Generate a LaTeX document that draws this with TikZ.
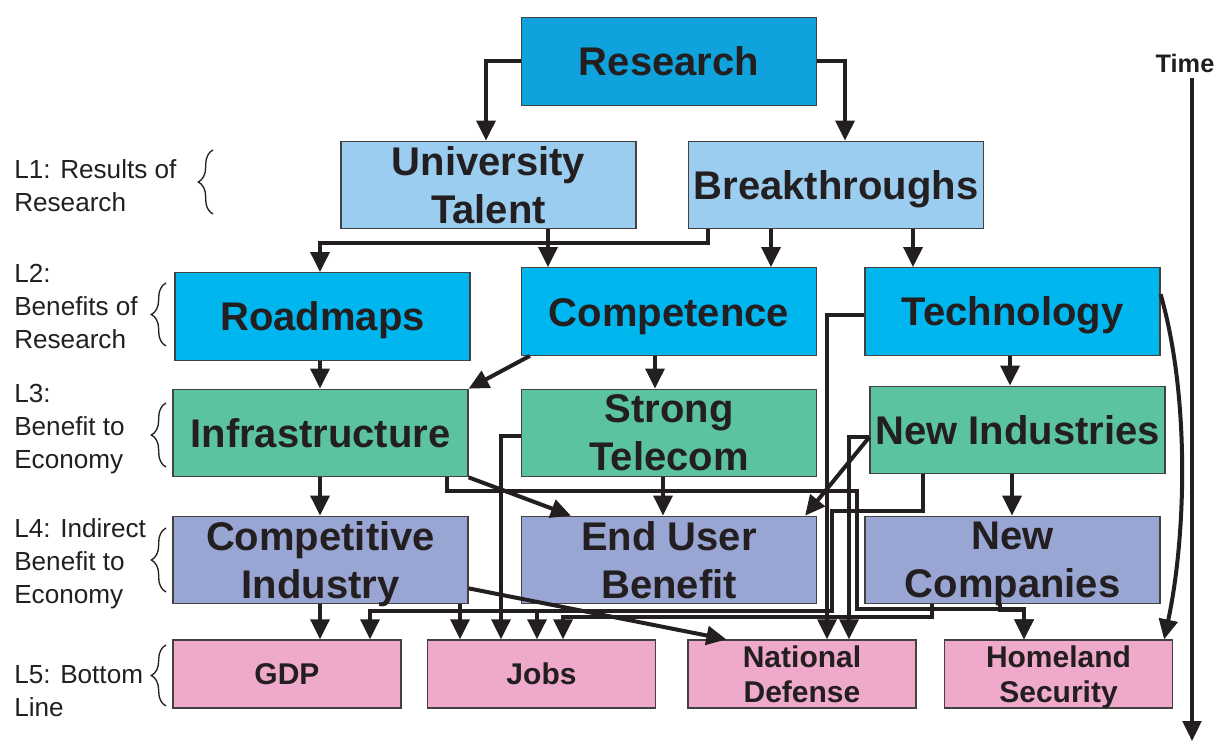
\documentclass[tikz,border=0pt]{standalone}
\usepackage{fontspec}
\setmainfont{Liberation Sans}
\usetikzlibrary{arrows.meta,calc,decorations.pathreplacing}
\definecolor{txt}{HTML}{231F20}
\definecolor{cRes}{HTML}{0FA2DC}
\definecolor{cL1}{HTML}{9ACDEF}
\definecolor{cL2}{HTML}{00B6EF}
\definecolor{cL3}{HTML}{5CC3A0}
\definecolor{cL4}{HTML}{99A5D3}
\definecolor{cL5}{HTML}{EFA9CB}
\tikzset{
  box/.style={draw=txt!85, line width=0.9pt, minimum width=221.25pt, minimum height=65.6pt,
    inner sep=0pt, align=center, text=txt, font=\fontsize{30}{36}\selectfont\bfseries},
  bot/.style={box, minimum width=171pt, minimum height=51pt, font=\fontsize{22.5}{26.25}\selectfont\bfseries},
  nodepth/.style={text depth=0pt},
  arr/.style={line width=3pt, draw=txt, -{Triangle[length=15pt,width=14pt]}},
  lbl/.style={anchor=west, align=left, text=txt, font=\fontsize{19.6}{24.75}\selectfont, inner sep=0pt},
  brc/.style={decorate, decoration={brace, amplitude=11pt}, line width=1pt, draw=txt}
}
\begin{document}
\begin{tikzpicture}[x=0.75pt,y=-0.75pt]
\useasboundingbox (0,0) rectangle (1217,742);
% boxes
\node[box, fill=cRes] (R) at (669,61.5) {Research};
\node[box, fill=cL1] (UT) at (488.5,185) {University\\Talent};
\node[box, fill=cL1, nodepth] (BT) at (836,185) {Breakthroughs};
\node[box, fill=cL2, nodepth] (RM) at (322.5,316.5) {Roadmaps};
\node[box, fill=cL2, text height=29pt] (Cmp) at (669,311.5) {Competence};
\node[box, fill=cL2, nodepth] (Tech) at (1012.5,311.5) {Technology};
\node[box, fill=cL3] (Inf) at (320.5,433) {Infrastructure};
\node[box, fill=cL3] (ST) at (669,433) {Strong\\Telecom};
\node[box, fill=cL3] (NI) at (1017.5,430) {New Industries};
\node[box, fill=cL4, nodepth] (CI) at (320.5,560) {Competitive\\Industry};
\node[box, fill=cL4] (EUB) at (669,560) {End User\\Benefit};
\node[box, fill=cL4, nodepth] (NC) at (1012.5,560) {New\\Companies};
\node[bot, fill=cL5] (GDP) at (287,674) {GDP};
\node[bot, fill=cL5] (Jobs) at (541.5,674) {Jobs};
\node[bot, fill=cL5] (ND) at (802,674) {National\\Defense};
\node[bot, fill=cL5, nodepth] (HS) at (1058.5,674) {Homeland\\Security};
% level labels
\node[lbl] (l1) at (14,186) {L1: Results of\\Research};
\node[lbl] (l2) at (14,307) {L2:\\Benefits of\\Research};
\node[lbl] (l3) at (14,429) {L3:\\Benefit to\\Economy};
\node[lbl] (l4) at (14,564) {L4: Indirect\\Benefit to\\Economy};
\node[lbl] (l5) at (14,691) {L5: Bottom\\Line};
\draw[brc] (213,214) -- (213,150);
\draw[brc] (166,346) -- (166,283);
\draw[brc] (166,467) -- (166,403);
\draw[brc] (166,592) -- (166,528);
\draw[brc] (166,706) -- (166,645);
% time
\node[text=txt, font=\fontsize{19}{22}\selectfont\bfseries, inner sep=0pt] (T) at (1185,63) {Time};
\coordinate (tS) at (1192,78);
\coordinate (tE) at (1192,741);
\draw[arr, line width=2.6pt] (tS) -- (tE);
% connectors
\draw[arr] (R.west) -| ($(UT.north)+(-2.5,0)$);
\draw[arr] (R.east) -| ($(BT.north)+(9,0)$);
\draw[arr] ($(UT.south)+(59.5,0)$) -- ($(Cmp.north)+(-121,0)$);
\draw[arr] ($(BT.south)+(-128,0)$) -- ++(0,14) -| ($(RM.north)+(-2.5,0)$);
\draw[arr] ($(BT.south)+(-65,0)$) -- ($(Cmp.north)+(102,0)$);
\draw[arr] ($(BT.south)+(77,0)$) -- ($(Tech.north)+(-99.5,0)$);
\draw[arr] ($(RM.south)+(-2.5,0)$) -- ($(Inf.north)+(-0.5,0)$);
\draw[arr] ($(Cmp.south west)+(9,0)$) -- (Inf.north east);
\draw[arr] ($(Cmp.south)+(-14,0)$) -- ($(ST.north)+(-14,0)$);
\draw[arr] ($(Tech.south)+(-2.5,0)$) -- ($(NI.north)+(-7.5,0)$);
\draw[arr] ($(Tech.west)+(0,3.5)$) -| ($(ND.north)+(25,0)$);
\draw[arr] ($(NI.west)+(0,7)$) -| ($(ND.north)+(47,0)$);
\draw[arr] ($(NI.west)+(0,7)$) -- ($(EUB.north east)+(-12,0)$);
\draw[arr] ($(NI.south)+(-94.5,0)$) -- ++(0,37) -- ++(-91,0) -- ++(0,100) -| ($(GDP.north)+(83,0)$);
\draw[arr] ($(Jobs.north)+(-4.5,-29)$) -- ($(Jobs.north)+(-4.5,0)$);
\draw[arr] ($(NC.south)+(-80.5,0)$) -- ++(0,13) -| ($(Jobs.north)+(21.5,0)$);
\draw[arr] ($(NC.south)+(-12.5,0)$) -- ++(0,6) -| ($(HS.north)+(-34.5,0)$);
\draw[arr] ($(Inf.south)+(126.5,0)$) -- ++(0,14) -| ($(ND.north)+(55,-30)$) -| ($(HS.north)+(-34.5,0)$);
\draw[arr] ($(ST.west)+(0,3)$) -| ($(Jobs.north)+(-40.5,0)$);
\draw[arr] (Inf.south east) -- ($(EUB.north west)+(50,0)$);
\draw[arr] ($(ST.south)+(-6,0)$) -- ($(EUB.north)+(-6,0)$);
\draw[arr] ($(NI.south)+(-5.5,0)$) -- ($(NC.north)+(-0.5,0)$);
\draw[arr] ($(Inf.south)+(-0.5,0)$) -- ($(CI.north)+(-0.5,0)$);
\draw[arr] ($(CI.south)+(-0.5,0)$) -- ($(GDP.north)+(33,0)$);
\draw[arr] ($(CI.south)+(139.5,0)$) -- ($(Jobs.north)+(-81.5,0)$);
\draw[arr] ($(CI.south east)+(0,-16)$) -- ($(ND.north west)+(39,0)$);
\draw[arr] ($(Tech.north east)+(0,27)$) .. controls +(30,105) and +(21.5,-100) .. ($(HS.north east)+(-9,0)$);
\end{tikzpicture}
\end{document}
